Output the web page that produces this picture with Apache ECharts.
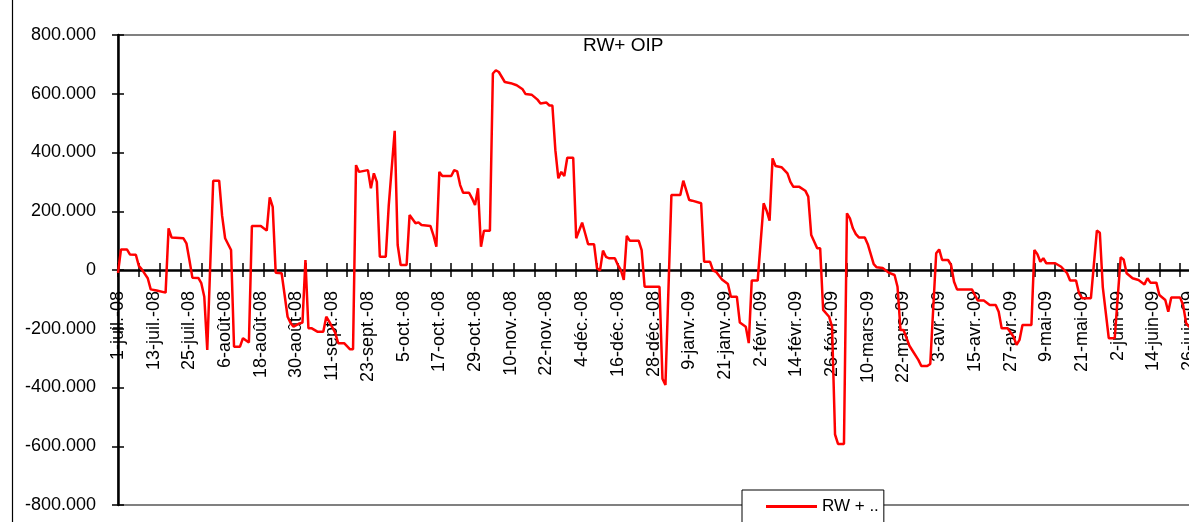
<!DOCTYPE html>
<html>
<head>
<meta charset="utf-8">
<script src="https://cdn.jsdelivr.net/npm/echarts@6/dist/echarts.min.js"></script>
<style>
  html, body { margin: 0; padding: 0; background: #fff; }
  #chart { width: 1189px; height: 522px; }
</style>
</head>
<body>
<div id="chart"></div>
<script>
// days since 1-juil.-08
var dayOffsets = [
  0, 1, 3, 4, 6, 7, 8, 10, 11, 13, 16, 17, 18, 22, 23, 24, 25, 27, 28, 29,
  30, 32, 34, 35, 36, 38, 39, 41, 42, 44, 45, 48, 50, 51, 52, 53, 55, 57, 58, 59,
  61, 62, 63, 64, 65, 67, 69, 70, 71, 73, 74, 76, 78, 79, 80, 81, 84, 85, 86, 87,
  88, 90, 91, 93, 94, 95, 97, 98, 100, 101, 102, 105, 106, 107, 108, 109, 112, 113, 114, 115,
  116, 118, 119, 120, 121, 122, 123, 125, 126, 127, 128, 130, 132, 134, 136, 137, 139, 141, 142, 144,
  145, 146, 147, 148, 149, 150, 151, 153, 154, 156, 157, 158, 160, 161, 162, 163, 164, 165, 167, 168,
  169, 170, 171, 172, 175, 176, 177, 182, 183, 184, 186, 189, 190, 192, 193, 196, 197, 199, 200, 201,
  203, 205, 206, 208, 209, 211, 212, 213, 215, 217, 218, 219, 220, 221, 223, 225, 226, 227, 229, 231,
  232, 233, 235, 236, 237, 239, 240, 241, 242, 244, 245, 246, 247, 248, 249, 251, 252, 254, 255, 257,
  259, 261, 262, 263, 264, 266, 267, 269, 270, 272, 273, 275, 276, 277, 279, 280, 281, 282, 287, 288,
  289, 291, 293, 295, 296, 297, 299, 301, 302, 303, 304, 307, 308, 309, 310, 311, 312, 315, 317, 319,
  320, 322, 323, 324, 327, 329, 330, 331, 333, 335, 337, 338, 339, 341, 343, 345, 346, 347, 349, 350,
  352, 353, 354, 357, 358, 359, 360, 362
];

var rwOip = [
  -10000, 70000, 70000, 53000, 52000, 14000, 2000, -28000, -66000, -70000, -77000, 142000, 111000, 108000, 91000, 34000, -26000, -27000, -45000, -91000,
  -272000, 304000, 304000, 184000, 108000, 68000, -261000, -261000, -232000, -247000, 150000, 150000, 134000, 247000, 215000, -9000, -11000, -159000, -180000, -193000,
  -182000, -179000, 34000, -198000, -198000, -210000, -210000, -159000, -176000, -213000, -249000, -249000, -270000, -270000, 357000, 334000, 340000, 278000, 329000, 300000,
  45000, 45000, 220000, 474000, 85000, 17000, 17000, 187000, 159000, 162000, 153000, 150000, 119000, 79000, 334000, 320000, 320000, 340000, 336000, 289000,
  263000, 263000, 244000, 221000, 278000, 79000, 134000, 134000, 669000, 680000, 674000, 640000, 636000, 629000, 615000, 599000, 597000, 580000, 567000, 570000,
  560000, 560000, 408000, 312000, 334000, 320000, 382000, 382000, 108000, 161000, 125000, 88000, 88000, 6000, -2000, 66000, 45000, 40000, 40000, 17000,
  0, -34000, 116000, 100000, 100000, 68000, -57000, -57000, -370000, -391000, 255000, 255000, 304000, 238000, 236000, 227000, 28000, 28000, -2000, -6000,
  -32000, -48000, -91000, -91000, -179000, -193000, -249000, -36000, -36000, 227000, 202000, 168000, 380000, 354000, 350000, 329000, 300000, 283000, 283000, 270000,
  250000, 119000, 74000, 74000, -136000, -159000, -193000, -560000, -592000, -592000, 193000, 176000, 142000, 122000, 111000, 111000, 88000, 20000, 9000, 7000,
  -9000, -17000, -57000, -204000, -204000, -258000, -274000, -306000, -327000, -327000, -320000, 57000, 70000, 34000, 34000, 17000, -40000, -66000, -66000, -85000,
  -104000, -104000, -119000, -119000, -142000, -198000, -198000, -227000, -255000, -238000, -187000, -187000, 68000, 54000, 28000, 40000, 23000, 23000, 11000, -11000,
  -36000, -36000, -79000, -96000, -96000, 134000, 127000, -59000, -232000, -232000, 43000, 36000, -11000, -28000, -34000, -49000, -28000, -43000, -43000, -85000,
  -102000, -142000, -94000, -94000, -120000, -181000, -193000, -193000
];

var moisFr = ["janv.", "févr.", "mars", "avr.", "mai", "juin", "juil.", "août", "sept.", "oct.", "nov.", "déc."];

var FONT = "Liberation Sans";

function dateLabel(d) {
  var dt = new Date(Date.UTC(2008, 6, 1) + d * 86400000);
  var yy = String(dt.getUTCFullYear()).slice(2);
  return dt.getUTCDate() + "-" + moisFr[dt.getUTCMonth()] + "-" + yy;
}

function milliers(v) {
  if (v === 0) return "0";
  var s = String(Math.abs(v)).replace(/\B(?=(\d{3})+(?!\d))/g, ".");
  return (v < 0 ? "-" : "") + s;
}

var chart = echarts.init(document.getElementById("chart"), null, { renderer: "canvas" });

// plot spans y 35..505, so the zero line sits 235px above the bottom edge
var ZERO_SHIFT = -235;

var xBase = {
  type: "value",
  min: 0,
  max: 364,
  position: "bottom",
  offset: ZERO_SHIFT,
  splitLine: { show: false }
};

chart.setOption({
  animation: false,
  backgroundColor: "#fff",
  title: {
    text: "RW+ OIP",
    left: 578,
    top: 31,
    textStyle: { fontFamily: FONT, fontSize: 19, fontWeight: "normal", color: "#000" }
  },
  legend: {
    left: 742,
    top: 490,
    padding: [8, 5, 30, 24],
    backgroundColor: "#fff",
    borderColor: "#000",
    borderWidth: 1,
    borderRadius: 0,
    itemWidth: 51,
    itemHeight: 3,
    icon: "rect",
    data: ["RW + OIP"],
    formatter: function (name) { return name.slice(0, 5) + ".."; },
    textStyle: { fontFamily: FONT, fontSize: 17, color: "#000" }
  },
  grid: {
    left: 118,
    right: -12,
    top: 35,
    bottom: 17,
    show: true,
    borderColor: "#808080",
    borderWidth: 2,
    containLabel: false,
    outerBoundsMode: "none"
  },
  graphic: [{
    type: "line",
    shape: { x1: 12.5, y1: 0, x2: 12.5, y2: 522 },
    style: { stroke: "#000", lineWidth: 1.2 }
  }],
  xAxis: [
    Object.assign({}, xBase, {
      interval: 12,
      axisLine: { show: true, onZero: false, lineStyle: { color: "#000", width: 2.5 } },
      axisTick: { show: false },
      axisLabel: {
        rotate: 90,
        margin: 21,
        fontFamily: FONT,
        fontSize: 18,
        color: "#000",
        showMaxLabel: false,
        formatter: function (v) { return v % 12 === 0 ? dateLabel(v) : ""; }
      }
    }),
    Object.assign({}, xBase, {
      interval: 7,
      axisLine: { show: false, onZero: false },
      axisTick: { show: true, length: 7, lineStyle: { color: "#000", width: 1.5 } },
      axisLabel: { show: false }
    }),
    Object.assign({}, xBase, {
      interval: 7,
      axisLine: { show: false, onZero: false },
      axisTick: { show: true, inside: true, length: 7, lineStyle: { color: "#000", width: 1.5 } },
      axisLabel: { show: false }
    })
  ],
  yAxis: [
    {
      type: "value",
      min: -800000,
      max: 800000,
      interval: 200000,
      position: "left",
      splitLine: { show: false },
      axisLine: { show: true, onZero: false, lineStyle: { color: "#000", width: 2.5 } },
      axisTick: { show: true, length: 6, lineStyle: { color: "#000", width: 1.5 } },
      axisLabel: {
        margin: 22,
        fontFamily: FONT,
        fontSize: 18,
        color: "#000",
        formatter: milliers
      }
    },
    {
      type: "value",
      min: -800000,
      max: 800000,
      interval: 200000,
      position: "left",
      splitLine: { show: false },
      axisLine: { show: false, onZero: false },
      axisTick: { show: true, inside: true, length: 6, lineStyle: { color: "#000", width: 1.5 } },
      axisLabel: { show: false }
    }
  ],
  series: [{
    name: "RW + OIP",
    type: "line",
    xAxisIndex: 0,
    yAxisIndex: 0,
    symbol: "none",
    color: "#ff0000",
    lineStyle: { color: "#ff0000", width: 2.5 },
    data: dayOffsets.map(function (d, i) { return [d, rwOip[i]]; })
  }]
});
</script>
</body>
</html>
